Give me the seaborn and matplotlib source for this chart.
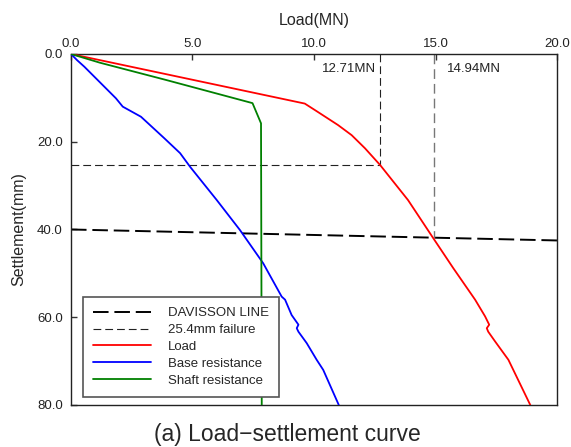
import matplotlib
matplotlib.use("Agg")
import matplotlib.pyplot as plt
import seaborn as sns
from matplotlib.lines import Line2D

# Load (MN) vs settlement (mm)
load_mn = [0.0, 9.62, 10.10, 10.99, 11.55, 12.10, 12.72, 13.87, 14.91,
           15.73, 16.63, 17.04, 17.21, 17.11, 17.17, 17.45, 18.00, 18.90]
load_settle = [0.0, 11.3, 13.0, 16.2, 18.5, 21.5, 25.3, 33.3, 42.0,
               48.8, 56.0, 59.8, 61.7, 62.5, 63.3, 65.5, 69.7, 80.0]

# Base resistance
base_mn = [0.0, 0.25, 0.55, 1.85, 2.13, 2.88, 3.84, 4.49, 4.90, 6.00, 6.95,
           7.91, 8.67, 8.81, 9.08, 9.36, 9.29, 9.36, 9.70, 10.11, 10.38, 11.02]
base_settle = [0.0, 1.4, 2.9, 10.1, 12.0, 14.3, 19.2, 22.6, 25.7, 33.3, 40.1,
               47.7, 55.3, 56.0, 59.5, 61.7, 62.5, 63.3, 65.9, 69.7, 72.0, 80.0]

# Shaft resistance
shaft_mn = [0.0, 1.2, 3.9, 7.47, 7.82, 7.85]
shaft_settle = [0.0, 2.0, 5.9, 11.2, 15.8, 80.0]

# Davisson criterion line
davisson_mn = [0.0, 20.0]
davisson_settle = [40.0, 42.5]

# Failure loads
failure_settle = 25.4
failure_load = 12.71
davisson_load = 14.94
davisson_cross = 41.9

x_ticks = [0, 5, 10, 15, 20]
y_ticks = [0, 20, 40, 60, 80]

sns.set_theme(style="white")
plt.rcParams["font.family"] = ["Liberation Sans", "DejaVu Sans"]

fig = plt.figure(figsize=(5.71, 4.47), dpi=100)
ax = fig.add_axes([0.1243, 0.094, 0.8512, 0.7852])

short_dash = (0, (7.0, 3.6))
long_dash = (0, (8.0, 3.0))

# reference lines
ax.plot(davisson_mn, davisson_settle, color="black", lw=1.4, linestyle=long_dash, zorder=2)
ax.plot([0, failure_load], [failure_settle, failure_settle], color="#222222", lw=0.8,
        linestyle=short_dash, zorder=2)
ax.plot([failure_load, failure_load], [0, failure_settle], color="#222222", lw=0.8,
        linestyle=short_dash, zorder=2)
ax.plot([davisson_load, davisson_load], [0, davisson_cross], color="#777777", lw=1.0,
        linestyle=short_dash, zorder=2)

# measured curves
sns.lineplot(x=load_mn, y=load_settle, sort=False, estimator=None, color="#ff0000",
             lw=1.3, ax=ax, zorder=3)
sns.lineplot(x=base_mn, y=base_settle, sort=False, estimator=None, color="#0000ff",
             lw=1.3, ax=ax, zorder=3)
sns.lineplot(x=shaft_mn, y=shaft_settle, sort=False, estimator=None, color="#008000",
             lw=1.3, ax=ax, zorder=3)

ax.text(failure_load - 0.15, 3.4, f"{failure_load:.2f}MN", ha="right", va="center",
        fontsize=9.5, color="#222222")
ax.text(davisson_load + 0.52, 3.4, f"{davisson_load:.2f}MN", ha="left", va="center",
        fontsize=9.5, color="#222222")

ax.set_xlim(0, 20)
ax.set_ylim(80, 0)
ax.xaxis.tick_top()
ax.xaxis.set_label_position("top")
ax.set_xticks(x_ticks)
ax.set_xticklabels([f"{v:.1f}" for v in x_ticks])
ax.set_yticks(y_ticks)
ax.set_yticklabels([f"{v:.1f}" for v in y_ticks])
ax.tick_params(axis="x", direction="in", length=4, width=1, color="#333333",
               labelsize=9.5, labelcolor="#222222", pad=3, top=True, bottom=False)
ax.tick_params(axis="y", direction="in", length=4, width=1, color="#333333",
               labelsize=9.5, labelcolor="#222222", pad=6, left=True, right=False)
ax.set_xlabel("Load(MN)", fontsize=11.5, labelpad=9)
ax.set_ylabel("Settlement(mm)", fontsize=11.5, labelpad=8)
for s in ax.spines.values():
    s.set_color("#222222")
    s.set_linewidth(1.0)

handles = [
    Line2D([], [], color="black", lw=1.4, linestyle=long_dash),
    Line2D([], [], color="#222222", lw=0.8, linestyle=short_dash),
    Line2D([], [], color="#ff0000", lw=1.3),
    Line2D([], [], color="#0000ff", lw=1.3),
    Line2D([], [], color="#008000", lw=1.3),
]
labels = ["DAVISSON LINE", "25.4mm failure", "Load", "Base resistance", "Shaft resistance"]
leg = ax.legend(handles, labels, loc="lower left", bbox_to_anchor=(0.0247, 0.0228),
                borderaxespad=0, fontsize=9.5, frameon=True, fancybox=False,
                framealpha=1, edgecolor="#555555", handlelength=4.4,
                handletextpad=1.3, labelspacing=0.36, borderpad=0.75)
leg.get_frame().set_linewidth(1.2)

fig.text(0.503, 0.028, "(a) Load\u2212settlement curve", ha="center", va="center",
         fontsize=16.5)

fig.savefig("out.png", dpi=100)
